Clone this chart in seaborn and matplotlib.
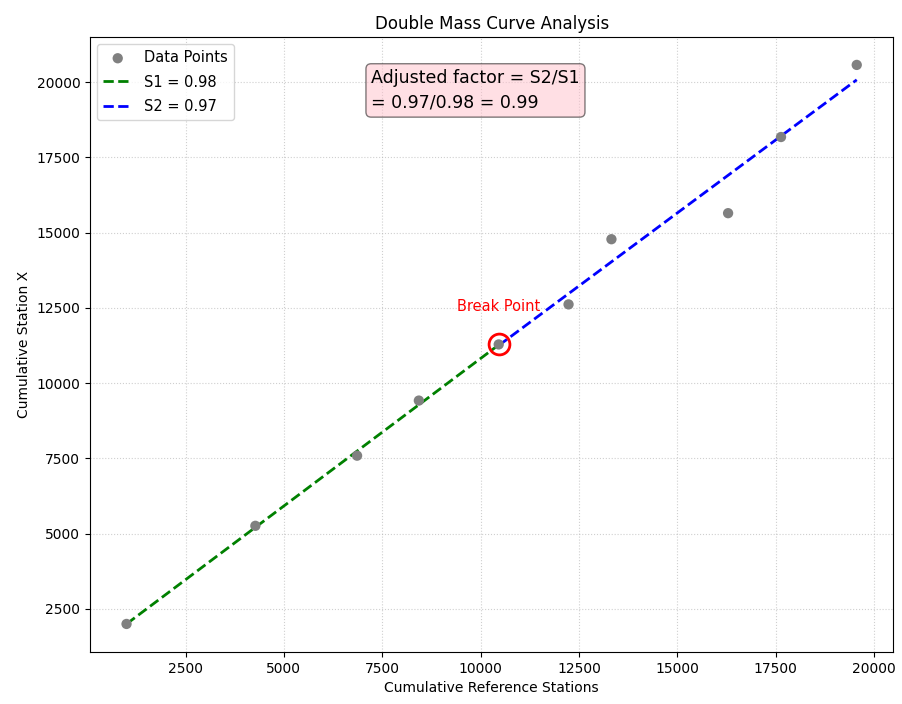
import numpy as np
import pandas as pd
import matplotlib
matplotlib.use("Agg")
import matplotlib.pyplot as plt
import seaborn as sns

# cumulative totals
ref_cum = [1000, 4275, 6860, 8430, 10460, 12235, 13325, 16290, 17635, 19560]
stn_cum = [2000, 5260, 7590, 9420, 11285, 12615, 14780, 15645, 18175, 20570]

# fitted segments (end points)
s1_x = [1000, 10460]
s1_y = [2000, 11270]
s2_x = [10460, 19560]
s2_y = [11250, 20075]

break_x = 10460
break_y = 11285

fig = plt.figure(figsize=(9.02, 7.04), dpi=100)
ax = fig.add_axes([0.0998, 0.074, 0.8905, 0.8735])

df = pd.DataFrame({"ref": ref_cum, "stn": stn_cum})
sns.scatterplot(data=df, x="ref", y="stn", ax=ax, color="gray", s=55,
                edgecolor="none", label="Data Points", zorder=3)
sns.lineplot(x=s1_x, y=s1_y, ax=ax, color="green", linestyle="--",
             linewidth=2, label="S1 = 0.98", sort=False, zorder=2)
sns.lineplot(x=s2_x, y=s2_y, ax=ax, color="blue", linestyle="--",
             linewidth=2, label="S2 = 0.97", sort=False, zorder=2)

ax.plot(break_x, break_y, marker="o", markersize=15, markerfacecolor="none",
        markeredgecolor="red", markeredgewidth=2, linestyle="none", zorder=4)
ax.text(break_x, break_y + 1000, "Break Point", color="red", fontsize=10.5,
        ha="center", va="bottom")

ax.text(0.35, 0.948, "Adjusted factor = S2/S1\n= 0.97/0.98 = 0.99",
        transform=ax.transAxes, fontsize=12.5, va="top", ha="left",
        linespacing=1.5,
        bbox=dict(boxstyle="round", facecolor="pink", alpha=0.5))

ax.set_title("Double Mass Curve Analysis", fontsize=12)
ax.set_xlabel("Cumulative Reference Stations")
ax.set_ylabel("Cumulative Station X")
ax.grid(True, linestyle=":", alpha=0.6)
ax.legend(loc="upper left", fontsize=10.5, labelspacing=0.65)

fig.savefig("out.png", dpi=100)
